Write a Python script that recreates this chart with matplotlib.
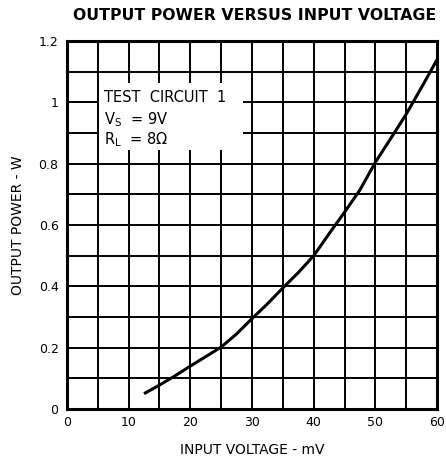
import numpy as np
import matplotlib
matplotlib.use('Agg')
import matplotlib.pyplot as plt
from matplotlib.patches import Rectangle

# values
input_mv = [12.5, 15, 17.5, 20, 22.5, 25, 27.5, 30, 32.5, 35,
            37.5, 40, 42.5, 45, 47.5, 50, 52.5, 55, 57.5, 60]
output_w = [0.05, 0.078, 0.108, 0.14, 0.171, 0.202, 0.245, 0.295, 0.343, 0.395,
            0.445, 0.50, 0.572, 0.642, 0.715, 0.805, 0.883, 0.962, 1.05, 1.14]

x_ticks = [0, 10, 20, 30, 40, 50, 60]
y_ticks = [0, 0.2, 0.4, 0.6, 0.8, 1.0, 1.2]
y_ticklabels = ['0', '0.2', '0.4', '0.6', '0.8', '1', '1.2']

fig = plt.figure(figsize=(4.46, 4.68), dpi=100)
ax = fig.add_axes([0.150, 0.126, 0.830, 0.786])

# grid every 5 mV / 0.1 W
for gx in np.arange(5, 60, 5):
    ax.axvline(gx, color='black', lw=1.4, zorder=1)
for gy in np.arange(0.1, 1.2, 0.1):
    ax.axhline(gy, color='black', lw=1.4, zorder=1)

# white patch behind the test-circuit note
ax.add_patch(Rectangle((5.2, 0.845), 23.4, 0.22, facecolor='white', edgecolor='none', zorder=2))

ax.plot(input_mv, output_w, color='black', lw=2.2, zorder=3,
        solid_capstyle='butt', solid_joinstyle='round')

ax.text(6.0, 1.0, 'TEST  CIRCUIT  1', fontsize=10.5, zorder=4)
ax.text(6.0, 0.93, r'V$_\mathregular{S}$  = 9V', fontsize=10.5, zorder=4)
ax.text(6.0, 0.865, r'R$_\mathregular{L}$  = 8$\Omega$', fontsize=10.5, zorder=4)

ax.set_xlim(0, 60)
ax.set_ylim(0, 1.2)
ax.set_xticks(x_ticks)
ax.set_yticks(y_ticks)
ax.set_yticklabels(y_ticklabels)
ax.tick_params(length=0, labelsize=9, pad=5)
ax.tick_params(axis='y', pad=6)
for s in ax.spines.values():
    s.set_linewidth(2.2)

ax.set_xlabel('INPUT VOLTAGE - mV', fontsize=10, labelpad=10)
ax.set_ylabel('OUTPUT POWER - W', fontsize=10, labelpad=10)
fig.text(0.572, 0.966, 'OUTPUT POWER VERSUS INPUT VOLTAGE', fontsize=11.3,
         fontweight='bold', ha='center', va='center')

fig.savefig('out.png', dpi=100)
